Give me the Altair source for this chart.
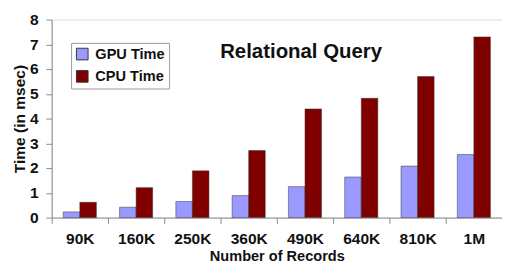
import altair as alt
import pandas as pd

categories = ["90K", "160K", "250K", "360K", "490K", "640K", "810K", "1M"]
gpu_time = [0.23, 0.42, 0.65, 0.89, 1.25, 1.64, 2.08, 2.55]
cpu_time = [0.62, 1.21, 1.89, 2.71, 4.39, 4.82, 5.70, 7.30]
series = ["GPU Time", "CPU Time"]
colors = ["#9999FF", "#800000"]

rows = []
for c, g, p in zip(categories, gpu_time, cpu_time):
    rows.append({"records": c, "series": "GPU Time", "time": g})
    rows.append({"records": c, "series": "CPU Time", "time": p})
df = pd.DataFrame(rows)

FONT = "Liberation Sans"

chart = alt.Chart(df).mark_bar(stroke="#333333", strokeWidth=0.5).encode(
    x=alt.X("records:N", sort=categories,
            scale=alt.Scale(paddingInner=0, paddingOuter=0),
            axis=alt.Axis(title="Number of Records", labelAngle=0, tickBand="extent",
                          labelFontSize=16, labelFontWeight="bold", labelPadding=8,
                          titleFontSize=15, titleFontWeight="bold", titlePadding=2,
                          domainColor="#888888", tickColor="#888888", tickSize=6,
                          labelColor="#111111", titleColor="#111111")),
    xOffset=alt.XOffset("series:N", sort=series,
                        scale=alt.Scale(paddingInner=0, paddingOuter=0.7)),
    y=alt.Y("time:Q", scale=alt.Scale(domain=[0, 8]),
            axis=alt.Axis(title="Time (in msec)", values=list(range(9)), grid=False,
                          labelFontSize=16, labelFontWeight="bold", labelPadding=8,
                          titleFontSize=16, titleFontWeight="bold", titlePadding=2,
                          domainColor="#888888", tickColor="#888888", tickSize=6,
                          labelColor="#111111", titleColor="#111111")),
    color=alt.Color("series:N", sort=series,
                    scale=alt.Scale(domain=series, range=colors),
                    legend=alt.Legend(title=None, orient="none", legendX=20, legendY=24,
                                      symbolType="square", symbolSize=144,
                                      symbolStrokeColor="#333333", symbolStrokeWidth=1,
                                      labelFontSize=15, labelFontWeight="bold",
                                      labelColor="#111111", labelFont=FONT, labelOffset=6,
                                      fillColor="white", strokeColor="#999999",
                                      padding=4, rowPadding=6)),
).properties(
    width=464, height=204,
    title=alt.TitleParams("Relational Query", fontSize=21, fontWeight="bold", font=FONT,
                          anchor="middle", dx=25, dy=56, color="#111111"),
    autosize="none",
    padding={"left": 45, "top": 8, "right": 0, "bottom": 49},
).configure_view(stroke=None).configure(font=FONT)

chart.save("out.html", embed_options={"renderer": "svg", "actions": False})
